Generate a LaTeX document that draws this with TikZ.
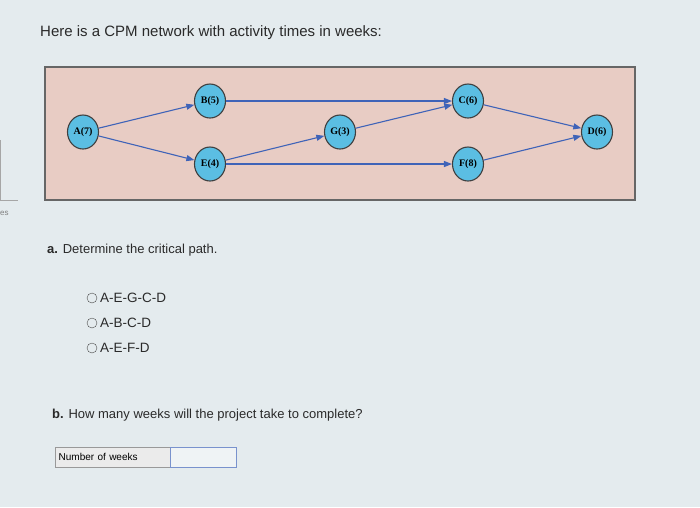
\documentclass[tikz,border=0pt]{standalone}
\usepackage{fontspec}
\setmainfont{Liberation Sans}
\newfontfamily\nodefont{Liberation Serif}
\usetikzlibrary{arrows.meta,shapes.geometric}
\definecolor{bg}{HTML}{E4EBEE}
\definecolor{panel}{HTML}{E8CCC4}
\definecolor{nodefill}{HTML}{5BBEE3}
\definecolor{edge}{HTML}{3F63B8}
\definecolor{txt}{HTML}{2A2A2A}
\tikzset{
 act/.style={ellipse,draw=black!75,line width=1.1pt,fill=nodefill,minimum width=31pt,minimum height=34pt,inner sep=0pt,font=\nodefont\bfseries\fontsize{10}{10}\selectfont},
 arr/.style={draw=edge,line width=1.1pt,-{Triangle[length=8pt,width=6pt]}},
 q/.style={anchor=west,text=txt,inner sep=0pt}
}
\begin{document}
\begin{tikzpicture}[x=1pt,y=-1pt]
\fill[bg] (0,0) rectangle (700,507);
\useasboundingbox (0,0) rectangle (700,507);
\draw[black!35] (0,140) -- (0,200) -- (18,200);
\node[q,font=\fontsize{8}{8}\selectfont,text=black!50] (es) at (0,213) {es};
\node[q,font=\fontsize{15}{15}\selectfont] (title) at (40,33) {Here is a CPM network with activity times in weeks:};
\draw[fill=panel,draw=black!60,line width=1.2pt] (45,67) rectangle (635,200);
\node[act] (A) at (83,132) {A(7)};
\node[act] (B) at (210,101) {B(5)};
\node[act] (E) at (210,164) {E(4)};
\node[act] (G) at (340,132) {G(3)};
\node[act] (C) at (468,101) {C(6)};
\node[act] (F) at (468,164) {F(8)};
\node[act] (D) at (597,132) {D(6)};
\draw[arr] (A) -- (B);
\draw[arr] (A) -- (E);
\draw[arr] (B) -- (C);
\draw[arr] (E) -- (G);
\draw[arr] (E) -- (F);
\draw[arr] (G) -- (C);
\draw[arr] (C) -- (D);
\draw[arr] (F) -- (D);
\node[q,font=\fontsize{13}{13}\selectfont] (qa) at (47,250) {\textbf{a.} Determine the critical path.};
\foreach \y/\t/\n in {298/A-E-G-C-D/o1,323/A-B-C-D/o2,348/A-E-F-D/o3}{
  \node[circle,draw=black!70,minimum size=10pt,inner sep=0pt] (\n c) at (92,\y) {};
  \node[q,font=\fontsize{13.5}{13.5}\selectfont] (\n) at (100,\y) {\t};
}
\node[q,font=\fontsize{13}{13}\selectfont] (qb) at (52,415) {\textbf{b.} How many weeks will the project take to complete?};
\node[draw=black!40,fill=black!8,minimum width=115pt,text width=108pt,align=left,minimum height=20pt,anchor=west,inner sep=3pt,font=\fontsize{10}{10}\selectfont] (lab) at (55,457) {Number of weeks};
\node[draw=edge!70,line width=1pt,fill=bg!60!white,minimum width=66pt,minimum height=20pt,anchor=west] (inp) at (lab.east) {};
\end{tikzpicture}
\end{document}
